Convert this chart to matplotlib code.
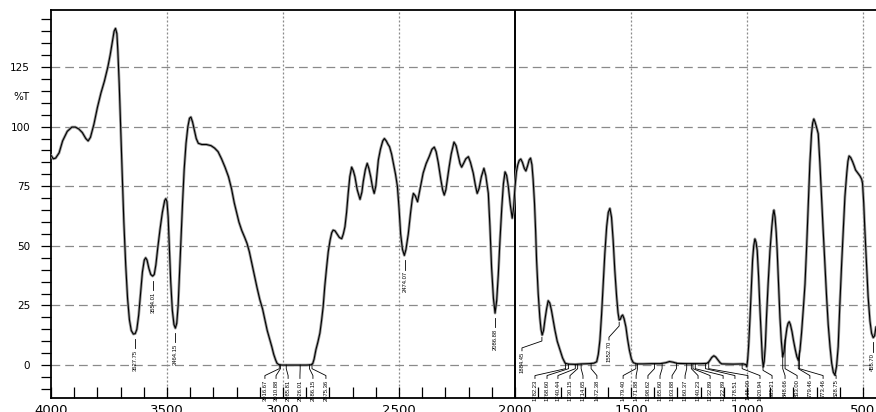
import matplotlib
matplotlib.use("Agg")
import matplotlib.pyplot as plt
import matplotlib.transforms as mtransforms
from matplotlib.ticker import MultipleLocator

# ---------------------------------------------------------------- spectrum
wavenumber = [
    4000, 3990, 3980, 3965, 3950, 3930, 3910, 3895, 3880, 3865, 3850, 3840, 3830, 3815,
    3800, 3785, 3770, 3755, 3745, 3735, 3728, 3722, 3716, 3712, 3706, 3700, 3693, 3686,
    3678, 3670, 3662, 3654, 3645, 3637, 3630, 3622, 3614, 3606, 3598, 3592, 3586, 3578,
    3570, 3562, 3555, 3548, 3540, 3530, 3520, 3510, 3505, 3500, 3495, 3490, 3484, 3477,
    3470, 3464, 3458, 3452, 3446, 3440, 3433, 3426, 3418, 3410, 3403, 3397, 3390, 3382,
    3374, 3365, 3350, 3330, 3310, 3295, 3280, 3265, 3250, 3235, 3222, 3210, 3200, 3190,
    3178, 3165, 3155, 3145, 3135, 3125, 3112, 3100, 3088, 3078, 3068, 3058, 3048, 3040,
    3032, 3026, 3018, 3005, 2950, 2900, 2880, 2872, 2866, 2858, 2850, 2841, 2834, 2827,
    2820, 2812, 2805, 2797, 2790, 2784, 2776, 2767, 2757, 2747, 2740, 2733, 2726, 2719,
    2712, 2704, 2697, 2690, 2680, 2668, 2660, 2654, 2645, 2637, 2630, 2622, 2614, 2607,
    2600, 2595, 2589, 2580, 2570, 2563, 2555, 2547, 2541, 2532, 2524, 2515, 2507, 2500,
    2493, 2485, 2477, 2470, 2460, 2450, 2443, 2438, 2430, 2420, 2410, 2396, 2383, 2370,
    2358, 2348, 2340, 2331, 2320, 2312, 2305, 2298, 2290, 2284, 2275, 2263, 2254, 2245,
    2237, 2230, 2222, 2212, 2201, 2192, 2180, 2170, 2163, 2155, 2145, 2134, 2126, 2115,
    2108, 2101, 2093, 2086, 2079, 2072, 2065, 2057, 2050, 2043, 2036, 2029, 2020, 2012,
    2006, 2000, 1994, 1988, 1982, 1975, 1968, 1960, 1953, 1946, 1939, 1933, 1927, 1922,
    1916, 1911, 1907, 1900, 1893, 1888, 1883, 1877, 1871, 1864, 1857, 1850, 1843, 1836,
    1828, 1818, 1806, 1795, 1784, 1770, 1740, 1710, 1680, 1660, 1648, 1641, 1634, 1627,
    1620, 1613, 1605, 1598, 1591, 1584, 1577, 1570, 1562, 1556, 1551, 1546, 1541, 1536,
    1530, 1522, 1515, 1507, 1498, 1490, 1475, 1447, 1410, 1375, 1350, 1334, 1318, 1300,
    1260, 1200, 1174, 1166, 1160, 1152, 1143, 1135, 1124, 1116, 1109, 1060, 1016, 1005,
    1001, 997, 993, 987, 981, 976, 971, 966, 961, 956, 950, 944, 938, 934,
    930, 926, 921, 916, 909, 901, 893, 888, 884, 879, 874, 870, 864, 858,
    852, 846, 841, 835, 828, 823, 818, 813, 806, 800, 792, 785, 779, 772,
    765, 757, 750, 743, 736, 729, 722, 717, 712, 707, 701, 693, 686, 679,
    672, 665, 657, 650, 642, 635, 628, 621, 614, 607, 600, 592, 585, 578,
    570, 565, 560, 553, 545, 538, 532, 522, 513, 506, 502, 497, 492, 485,
    478, 470, 463, 456, 450, 444,
]

transmittance = [
    88, 86.5, 86.8, 89, 94, 98, 99.8, 99.8, 99, 97.5, 95, 94, 95.5, 101,
    108, 114, 119, 125, 130, 136, 140, 141.2, 139, 132, 118, 100, 80, 60,
    42, 28, 19, 14.5, 13, 13.2, 15, 21, 30, 39, 44, 45, 44, 40.5,
    38, 37.3, 38, 42, 49, 57, 64, 69, 69.8, 68.5, 62, 50, 35, 23,
    17, 15.5, 17.5, 25, 38, 52, 68, 82, 93, 100, 103.5, 104, 102, 98.5,
    95, 93, 92.5, 92.5, 92, 91, 89.5, 86.5, 83, 79, 74, 68, 64, 60,
    56.5, 53.5, 51, 47.5, 43, 38.5, 32.5, 27.5, 23.5, 19, 14.5, 11, 7.6, 4.5,
    2.2, 0.8, 0.2, 0.0, 0.0, 0.0, 0.1, 0.6, 2.5, 6.5, 9.5, 13.4, 18.5, 24.4,
    33, 41, 47.5, 52.4, 55.5, 56.6, 56.3, 55, 53.5, 53, 55, 58, 64, 72,
    79, 83, 81.5, 79, 73.5, 69.5, 72.5, 77, 82, 84.6, 82.5, 79, 74.5, 72,
    75, 80, 86, 90.5, 94, 95, 94, 92.5, 91.6, 88.5, 84.6, 80, 75, 66,
    55, 48.5, 46, 48.5, 55, 64, 69.5, 72, 71, 68.5, 73.5, 80.5, 84.5, 87.4,
    90.5, 91.4, 89.5, 85, 78, 73.5, 71.3, 73.5, 79, 83, 88.5, 93.5, 92, 88,
    84.5, 83, 84.5, 86.5, 87.4, 85, 80.5, 75, 72, 74, 79, 82.5, 79.5, 72,
    58, 41, 28, 21.8, 27, 38, 52, 66, 76, 81, 79.5, 75, 67, 61.6,
    66, 74.7, 81, 84, 85.8, 86.4, 85, 82.5, 81.4, 83.5, 86, 86.8, 84, 78,
    68, 56, 44, 30, 20, 15, 12.6, 14.5, 19, 23.5, 27, 26, 23, 19,
    14.7, 10, 6.3, 3, 0.8, 0.4, 0.3, 0.5, 0.6, 0.8, 1.4, 4.5, 10.5, 21,
    34, 46.5, 58, 64, 65.7, 62, 52.4, 40, 28.7, 22, 18.9, 19.2, 20.5, 21,
    19.5, 16, 11, 6.3, 2.5, 1.0, 0.5, 0.5, 0.6, 0.6, 1.0, 1.5, 1.2, 0.7,
    0.6, 0.6, 0.7, 1.2, 2.0, 3.2, 3.9, 3.4, 2.0, 1.0, 0.5, 0.4, 0.5, 0.2,
    -0.7, 2.5, 8, 20, 33, 44, 50, 52.9, 51.5, 48, 37, 23, 11, 3,
    -0.7, 1.5, 8, 20, 34, 48, 58, 63, 65, 62, 55.5, 48, 34, 20,
    10, 3.5, 5.5, 10.5, 15.5, 17.5, 18.2, 17, 14, 10.5, 6.5, 3.5, 2.1, 6,
    13.4, 24, 34, 49.6, 67, 84.7, 97, 101.5, 103.2, 102, 100, 97, 85, 70.6,
    57, 43.5, 28.7, 17, 7.5, 0.8, -3, -4.2, -0.5, 7.7, 25, 42.7, 57, 70.6,
    80.5, 85.5, 87.7, 87, 85.3, 83.5, 81.8, 80.5, 79.3, 78, 76.2, 68, 56.6, 43,
    28.7, 18.5, 13.3, 11.5, 12.3, 16,
]

# ---------------------------------------------------------------- peak tables
# labels hung directly below a band minimum
minimum_labels = ["3627.75", "3554.01", "3464.15", "2474.07", "2086.88", "455.70"]
minimum_wn = [3638, 3560, 3466, 2474, 2086, 458]
minimum_t = [13.0, 37.3, 15.5, 46.0, 21.8, 11.5]

# labels collected along the bottom row, with the point of the trace they refer to
row_labels = [
    "3016.67", "3010.88", "2985.81", "2926.01", "2886.15", "2875.36",
    "1782.23", "1768.60", "1740.44", "1730.15", "1714.65", "1672.38",
    "1479.40", "1471.88", "1398.62", "1365.60", "1303.88", "1260.37",
    "1240.23", "1232.89", "1222.89", "1178.51", "1165.00", "1020.94",
    "935.21", "848.66", "833.00", "779.46", "773.46", "628.75",
]
row_wn = [
    3016, 3011, 2986, 2926, 2886, 2875,
    1782, 1769, 1740, 1730, 1715, 1672,
    1479, 1472, 1399, 1366, 1304, 1260,
    1240, 1233, 1223, 1179, 1165, 1021,
    931, 846, 836, 779, 774, 621,
]
row_t = [
    0.0, 0.0, 0.0, 0.0, 0.1, 0.4,
    0.8, 0.4, 0.3, 0.3, 0.4, 0.6,
    0.5, 0.5, 0.6, 0.6, 0.8, 0.6,
    0.6, 0.6, 0.6, 0.6, 1.2, 0.5,
    -0.7, 3.5, 10.5, 2.1, 6.0, -4.2,
]

# labels placed beside a band
side_labels = ["1884.45", "1552.70"]
side_wn = [1884, 1551]
side_t = [12.6, 18.9]

# ---------------------------------------------------------------- layout
# text columns of the bottom row (cm-1)
row_text_wn = [
    3078, 3030, 2978, 2927, 2871, 2815,
    1914, 1862, 1815, 1763, 1707, 1647,
    1534, 1478, 1427, 1375, 1323, 1267,
    1211, 1159, 1103, 1052, 996, 944,
    892, 836, 784, 729, 672, 616,
]
side_text_wn = [1970, 1595]
side_text_top = [6.0, 10.5]

W, H = 876, 412
fig = plt.figure(figsize=(W / 100, H / 100), dpi=100)
ax = fig.add_axes([51 / W, 14 / H, 825 / W, 388 / H])
ax.set_xlim(4000, 444)
ax.set_ylim(-13.8, 148.9)

# grid
for v in [0, 25, 50, 75, 100, 125]:
    ax.axhline(v, color="#8a8a8a", lw=0.9, ls=(0, (7, 4)), zorder=1)
for x in [3500, 3000, 2500, 1500, 1000, 500]:
    ax.axvline(x, color="#8a8a8a", lw=0.9, ls=(0, (1.6, 1.6)), zorder=1)
ax.axvline(2000, color="black", lw=1.4, zorder=2)

# trace
ax.plot(wavenumber, transmittance, color="#9a9a9a", lw=2.0, zorder=3,
        solid_joinstyle="round", solid_capstyle="round")
ax.plot(wavenumber, transmittance, color="black", lw=0.8, zorder=4,
        solid_joinstyle="round")

lab_font = dict(family="Liberation Sans", size=4.2, color="black")
lead = dict(color="black", lw=0.6, zorder=5)

for text, w, t in zip(minimum_labels, minimum_wn, minimum_t):
    top = t - 2.0
    ax.plot([w, w], [top, top - 4.0], **lead)
    ax.text(w, top - 4.6, text, rotation=90, ha="center", va="top", zorder=6, **lab_font)

def leader(wa, ta, wt, top):
    k1 = min(ta, max(min(ta, 0) - 1.5, -3.0))
    k2 = min(top + 1.2, k1)
    ax.plot([wa, wa, wt, wt], [ta, k1, k2, top], **lead)

ROW_TOP = -5.6
for text, w, t, wt in zip(row_labels, row_wn, row_t, row_text_wn):
    leader(w, t, wt, ROW_TOP)
    ax.text(wt, ROW_TOP - 0.4, text, rotation=90, ha="center", va="top", zorder=6, **lab_font)

for text, w, t, wt, top in zip(side_labels, side_wn, side_t, side_text_wn, side_text_top):
    ax.plot([w, w, wt, wt], [t - 1.0, t - 2.5, top + 1.2, top], **lead)
    ax.text(wt, top - 0.4, text, rotation=90, ha="center", va="top", zorder=6, **lab_font)

# axes frame and ticks
for side in ["left", "top", "bottom"]:
    ax.spines[side].set_linewidth(1.3)
    ax.spines[side].set_color("black")
ax.spines["right"].set_visible(False)

xt = list(range(4000, 499, -500))
ax.set_xticks(xt)
ax.set_xticklabels([str(v) for v in xt], family="DejaVu Sans")
ax.xaxis.set_minor_locator(MultipleLocator(100))
ax.tick_params(axis="x", which="both", direction="in", length=8, width=0.9,
               pad=4, labelsize=9.5, top=False)

yt = [0, 25, 50, 75, 100, 125]
ax.set_yticks(yt)
ax.set_yticklabels([str(v) for v in yt], family="DejaVu Sans")
ax.yaxis.set_minor_locator(MultipleLocator(5))
ax.tick_params(axis="y", which="both", direction="out", length=7, width=0.9,
               pad=8, labelsize=7.5)

trans = mtransforms.blended_transform_factory(ax.transAxes, ax.transData)
ax.text(-21 / 825, 112.4, "%T", transform=trans, ha="right", va="center",
        family="DejaVu Sans", fontsize=7.5)

fig.savefig("out.png", dpi=100)
